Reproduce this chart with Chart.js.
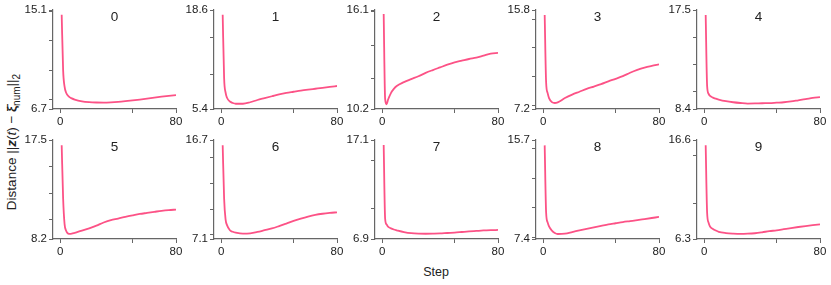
<!DOCTYPE html>
<html>
<head>
<meta charset="utf-8">
<script src="https://cdn.jsdelivr.net/npm/chart.js@4"></script>
<style>
  body { margin: 0; background: #fff; font-family: "Liberation Sans", Arial, sans-serif; }
  #wrap { position: relative; width: 831px; height: 285px; overflow: hidden; }
  canvas { position: absolute; }
  .ylab { position: absolute; left: 13px; top: 142px; transform: translate(-50%, -50%) rotate(-90deg);
          white-space: nowrap; font-size: 13.5px; color: #222; }
  .xlab { position: absolute; left: 436px; top: 272px; transform: translate(-50%, -50%);
          font-size: 12.5px; color: #222; }
</style>
</head>
<body>
<div id="wrap">
  <div class="ylab">Distance ||<b><i>z</i></b>(<i>t</i>) &minus; <b>&xi;&#772;</b><sub style="font-size:10px">num</sub>||<sub style="font-size:10px">2</sub></div>
  <div class="xlab">Step</div>
</div>
<script>
// steps where values were read
const steps = [1, 2, 3, 4, 6, 8, 10, 15, 20, 25, 30, 35, 40, 45, 50, 55, 60, 65, 70, 75, 80];

const run0 = [14.7, 10.0, 8.6, 8.1, 7.75, 7.6, 7.5, 7.35, 7.28, 7.25, 7.24, 7.26, 7.3, 7.36, 7.43, 7.5, 7.58, 7.67, 7.75, 7.82, 7.88];
const run1 = [17.97, 9.5, 7.6, 6.9, 6.4, 6.2, 6.1, 6.1, 6.3, 6.6, 6.85, 7.1, 7.35, 7.55, 7.7, 7.85, 7.98, 8.1, 8.22, 8.35, 8.47];
const run2 = [15.86, 10.8, 10.48, 10.75, 11.15, 11.4, 11.57, 11.8, 11.98, 12.15, 12.35, 12.52, 12.68, 12.84, 12.98, 13.08, 13.18, 13.26, 13.38, 13.5, 13.54];
const run3 = [15.37, 9.5, 8.6, 8.15, 7.8, 7.72, 7.78, 8.15, 8.45, 8.7, 8.95, 9.15, 9.36, 9.6, 9.82, 10.05, 10.35, 10.6, 10.8, 10.95, 11.08];
const run4 = [17.04, 10.5, 9.8, 9.6, 9.45, 9.35, 9.27, 9.12, 9.02, 8.95, 8.9, 8.91, 8.93, 8.94, 8.98, 9.02, 9.1, 9.2, 9.3, 9.42, 9.5];
const run5 = [17.0, 12.0, 9.6, 9.0, 8.68, 8.7, 8.78, 8.98, 9.2, 9.45, 9.75, 9.98, 10.12, 10.28, 10.42, 10.55, 10.65, 10.75, 10.85, 10.92, 10.96];
const run6 = [16.2, 11.0, 9.0, 8.45, 7.95, 7.8, 7.72, 7.62, 7.65, 7.78, 7.95, 8.12, 8.35, 8.6, 8.85, 9.08, 9.28, 9.44, 9.55, 9.63, 9.69];
const run7 = [16.58, 9.0, 8.4, 8.18, 8.0, 7.88, 7.8, 7.62, 7.5, 7.45, 7.44, 7.45, 7.47, 7.52, 7.56, 7.62, 7.68, 7.73, 7.78, 7.81, 7.83];
const run8 = [15.25, 9.6, 8.8, 8.45, 8.1, 7.9, 7.82, 7.85, 7.98, 8.12, 8.25, 8.38, 8.5, 8.62, 8.72, 8.82, 8.9, 8.98, 9.07, 9.16, 9.25];
const run9 = [16.05, 9.0, 8.0, 7.6, 7.35, 7.18, 7.05, 6.92, 6.86, 6.83, 6.85, 6.9, 7.0, 7.12, 7.2, 7.32, 7.44, 7.55, 7.65, 7.74, 7.82];
const runs = [run0, run1, run2, run3, run4, run5, run6, run7, run8, run9];

const panelTitles = ["0", "1", "2", "3", "4", "5", "6", "7", "8", "9"];
const yMin = [6.7, 5.4, 10.2, 7.2, 8.4, 8.2, 7.1, 6.9, 7.4, 6.3];
const yMax = [15.1, 18.6, 16.1, 15.8, 17.5, 17.5, 16.7, 17.1, 15.7, 16.6];
const xTicks = [0, 50, 80];
const xLabeled = [0, 80];

const LINE = "#fc5286";
const AXIS = "#666";
const TEXT = "#222";
const FONT = '"Liberation Sans", Arial, sans-serif';

// panel layout (plot area left/top)
const colLeft = [53, 213.5, 374.5, 536, 696.5];
const rowTop = [10, 140];
const PW = 123, PH = 99;
const PADL = 45, PADT = 10, PADR = 12, PADB = 25;

// title drawn inside the plot area
const titlePlugin = {
  id: "panelTitle",
  afterDraw(chart, args, opts) {
    const { ctx, chartArea } = chart;
    ctx.save();
    ctx.font = "13.5px " + FONT;
    ctx.fillStyle = TEXT;
    ctx.textAlign = "center";
    ctx.textBaseline = "middle";
    ctx.fillText(opts.text, (chartArea.left + chartArea.right) / 2, chartArea.top + 7);
    ctx.restore();
  }
};

function innerTicks(lo, hi) {
  const r = hi - lo;
  const step = r < 6 ? 2 : r < 10 ? 2.5 : 5;
  const out = [];
  for (let v = Math.ceil(lo / step) * step; v < hi; v += step) {
    if (v > lo + 0.05 && v < hi - 0.05) out.push(v);
  }
  return out;
}

const wrap = document.getElementById("wrap");

runs.forEach((run, i) => {
  const col = i % 5, row = Math.floor(i / 5);
  const canvas = document.createElement("canvas");
  canvas.width = PADL + PW + PADR;
  canvas.height = PADT + PH + PADB;
  canvas.style.left = (colLeft[col] - PADL) + "px";
  canvas.style.top = (rowTop[row] - PADT) + "px";
  wrap.appendChild(canvas);

  const lo = yMin[i], hi = yMax[i];

  new Chart(canvas.getContext("2d"), {
    type: "line",
    data: {
      datasets: [{
        data: steps.map((s, k) => ({ x: s, y: run[k] })),
        borderColor: LINE,
        borderWidth: 1.8,
        pointRadius: 0,
        cubicInterpolationMode: "monotone",
        fill: false
      }]
    },
    options: {
      responsive: false,
      animation: false,
      devicePixelRatio: 1,
      layout: { padding: { left: 0, top: PADT, right: PADR, bottom: 0 } },
      plugins: {
        legend: { display: false },
        tooltip: { enabled: false },
        panelTitle: { text: panelTitles[i] }
      },
      scales: {
        x: {
          type: "linear",
          min: -5,
          max: 80,
          afterFit: s => { s.height = PADB; },
          afterBuildTicks: s => { s.ticks = xTicks.map(v => ({ value: v })); },
          ticks: {
            autoSkip: false,
            maxRotation: 0,
            padding: 2,
            color: TEXT,
            font: { family: FONT, size: 11.5 },
            callback: v => xLabeled.includes(v) ? String(v) : ""
          },
          grid: { drawOnChartArea: false, drawTicks: true, tickLength: 4, color: AXIS },
          border: { display: true, color: AXIS, width: 1.2 }
        },
        y: {
          type: "linear",
          min: lo,
          max: hi,
          afterFit: s => { s.width = PADL; },
          afterBuildTicks: s => {
            s.ticks = [lo, ...innerTicks(lo, hi), hi].map(v => ({ value: v }));
          },
          ticks: {
            autoSkip: false,
            padding: 2,
            color: TEXT,
            font: { family: FONT, size: 11.5 },
            callback: v => (v === lo || v === hi) ? v.toFixed(1) : ""
          },
          grid: { drawOnChartArea: false, drawTicks: true, tickLength: 4, color: AXIS },
          border: { display: true, color: AXIS, width: 1.2 }
        }
      }
    },
    plugins: [titlePlugin]
  });
});
</script>
</body>
</html>
